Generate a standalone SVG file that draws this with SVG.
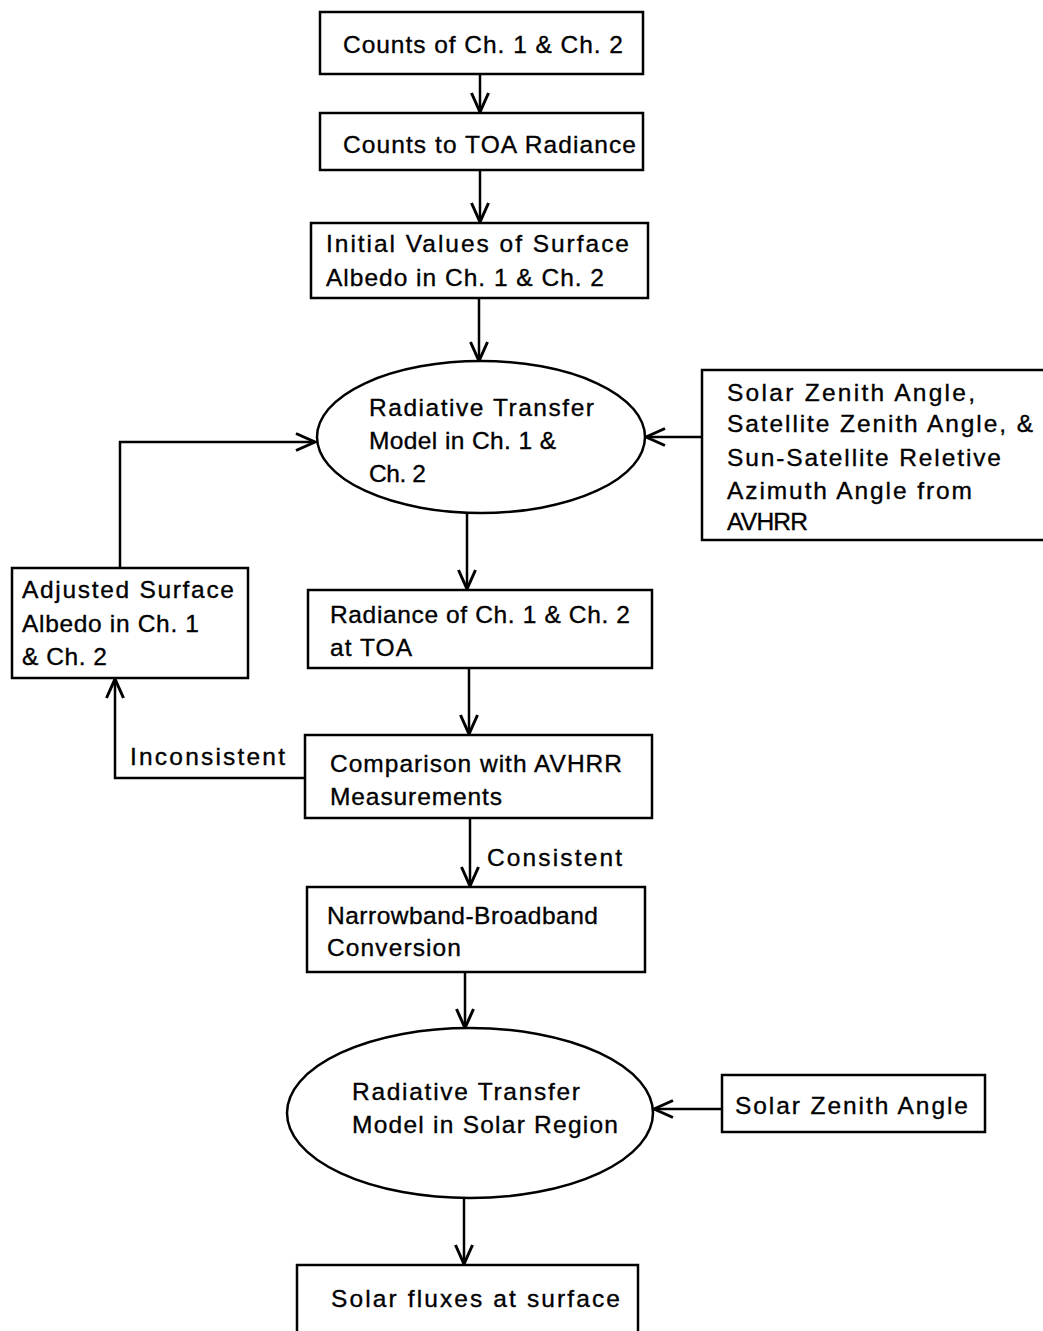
<svg xmlns="http://www.w3.org/2000/svg" width="1043" height="1331" viewBox="0 0 1043 1331">
<style>
.b{fill:#fff;stroke:#000;stroke-width:2.5}
.t{font-family:"Liberation Sans",Arial,sans-serif;font-size:24.5px;fill:#000;stroke:#000;stroke-width:0.35}
.c{fill:none;stroke:#000;stroke-width:2.5}
</style>
<defs>
<marker id="a" viewBox="0 0 24 20" refX="21" refY="10" markerWidth="24" markerHeight="20" markerUnits="userSpaceOnUse" orient="auto">
<path d="M2,1.5 L21,10 L2,18.5" fill="none" stroke="#000" stroke-width="3" stroke-linejoin="miter"/>
</marker>
</defs>
<rect width="1043" height="1331" fill="#fff"/>
<g id="connectors">
<line class="c" x1="480" y1="74" x2="480" y2="112" marker-end="url(#a)"/>
<line class="c" x1="480" y1="170" x2="480" y2="222" marker-end="url(#a)"/>
<line class="c" x1="479" y1="298" x2="479" y2="361" marker-end="url(#a)"/>
<line class="c" x1="702" y1="437" x2="646" y2="437" marker-end="url(#a)"/>
<polyline class="c" points="120,568 120,442 315,442" marker-end="url(#a)"/>
<line class="c" x1="467" y1="513" x2="467" y2="589" marker-end="url(#a)"/>
<line class="c" x1="469" y1="668" x2="469" y2="734" marker-end="url(#a)"/>
<polyline class="c" points="305,778 115,778 115,679" marker-end="url(#a)"/>
<line class="c" x1="470" y1="818" x2="470" y2="886" marker-end="url(#a)"/>
<line class="c" x1="465" y1="972" x2="465" y2="1028" marker-end="url(#a)"/>
<line class="c" x1="722" y1="1109" x2="654" y2="1109" marker-end="url(#a)"/>
<line class="c" x1="464" y1="1198" x2="464" y2="1264" marker-end="url(#a)"/>
</g>
<g id="n1"><rect class="b" x="320" y="12" width="323" height="62"/><text class="t" x="343" y="53" textLength="280">Counts of Ch. 1 &amp; Ch. 2</text></g>
<g id="n2"><rect class="b" x="320" y="113" width="323" height="57"/><text class="t" x="343" y="153" textLength="293">Counts to TOA Radiance</text></g>
<g id="n3"><rect class="b" x="311" y="223" width="337" height="75"/><text class="t" x="326" y="252" textLength="303">Initial Values of Surface</text><text class="t" x="326" y="286" textLength="278">Albedo in Ch. 1 &amp; Ch. 2</text></g>
<g id="n4"><ellipse class="b" cx="481" cy="437" rx="164" ry="76"/><text class="t" x="369" y="416" textLength="225">Radiative Transfer</text><text class="t" x="369" y="449" textLength="187">Model in Ch. 1 &amp;</text><text class="t" x="369" y="482" textLength="57">Ch. 2</text></g>
<g id="n5"><rect class="b" x="702" y="370" width="350" height="170"/><text class="t" x="727" y="401" textLength="248">Solar Zenith Angle,</text><text class="t" x="727" y="432" textLength="306">Satellite Zenith Angle, &amp;</text><text class="t" x="727" y="466" textLength="274">Sun-Satellite Reletive</text><text class="t" x="727" y="499" textLength="245">Azimuth Angle from</text><text class="t" x="727" y="530" textLength="81">AVHRR</text></g>
<g id="n6"><rect class="b" x="12" y="568" width="236" height="110"/><text class="t" x="22" y="598" textLength="212">Adjusted Surface</text><text class="t" x="22" y="632" textLength="177">Albedo in Ch. 1</text><text class="t" x="22" y="665" textLength="85">&amp; Ch. 2</text></g>
<g id="n7"><rect class="b" x="308" y="590" width="344" height="78"/><text class="t" x="330" y="623" textLength="300">Radiance of Ch. 1 &amp; Ch. 2</text><text class="t" x="330" y="656" textLength="82">at TOA</text></g>
<g id="n8"><rect class="b" x="305" y="735" width="347" height="83"/><text class="t" x="330" y="772" textLength="292">Comparison with AVHRR</text><text class="t" x="330" y="805" textLength="172">Measurements</text></g>
<text class="t" x="130" y="765" textLength="155">Inconsistent</text>
<text class="t" x="487" y="866" textLength="135">Consistent</text>
<g id="n9"><rect class="b" x="307" y="887" width="338" height="85"/><text class="t" x="327" y="924" textLength="271">Narrowband-Broadband</text><text class="t" x="327" y="956" textLength="134">Conversion</text></g>
<g id="n10"><ellipse class="b" cx="470" cy="1113" rx="183" ry="85"/><text class="t" x="352" y="1100" textLength="228">Radiative Transfer</text><text class="t" x="352" y="1133" textLength="266">Model in Solar Region</text></g>
<g id="n11"><rect class="b" x="722" y="1075" width="263" height="57"/><text class="t" x="735" y="1114" textLength="233">Solar Zenith Angle</text></g>
<g id="n12"><rect class="b" x="297" y="1265" width="341" height="80"/><text class="t" x="331" y="1307" textLength="289">Solar fluxes at surface</text></g>
</svg>
